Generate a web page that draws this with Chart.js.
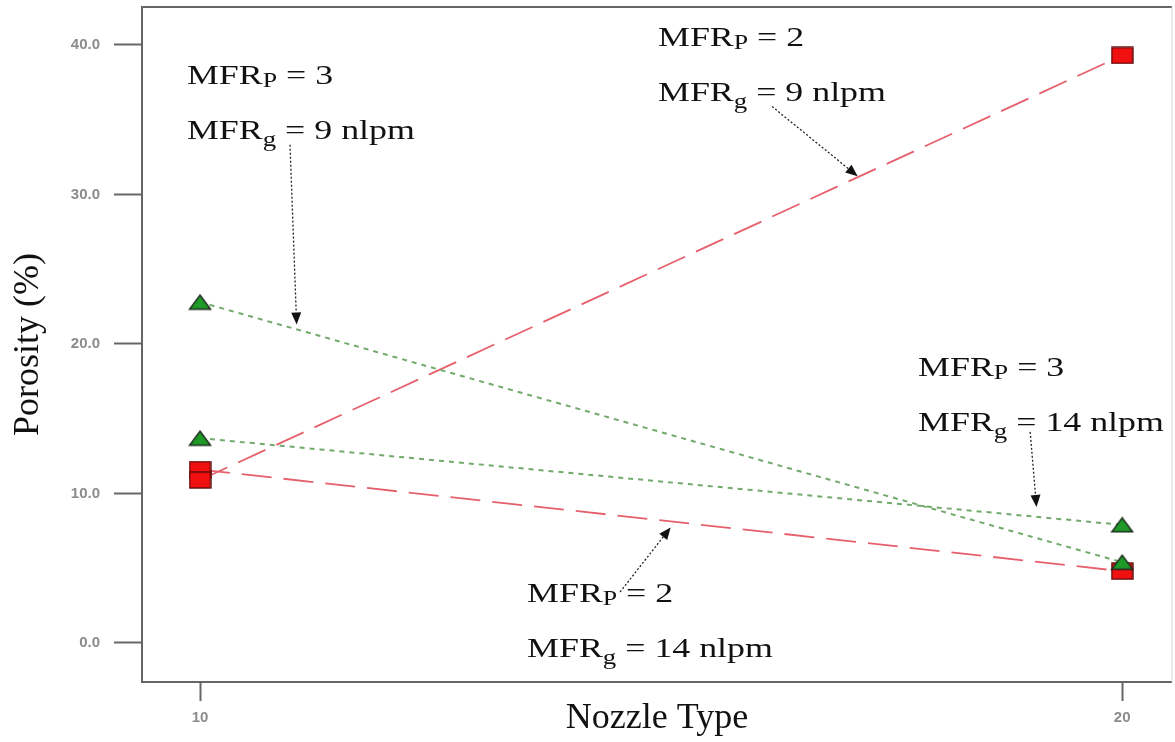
<!DOCTYPE html>
<html>
<head>
<meta charset="utf-8">
<script src="https://cdn.jsdelivr.net/npm/chart.js@4/dist/chart.umd.min.js"></script>
<style>
  html, body { margin: 0; padding: 0; background: #fff; }
  canvas { display: block; }
</style>
</head>
<body>
<canvas id="chart" width="1175" height="742"></canvas>
<script>
// Porosity (%) for each nozzle type, per powder / gas mass flow rate setting
const nozzleTypes = [10, 20];
const porosityP2G9 = [10.9, 39.3];   // MFRp = 2, MFRg = 9 nlpm
const porosityP2G14 = [11.6, 4.8];   // MFRp = 2, MFRg = 14 nlpm
const porosityP3G9 = [22.8, 5.4];    // MFRp = 3, MFRg = 9 nlpm
const porosityP3G14 = [13.7, 7.9];   // MFRp = 3, MFRg = 14 nlpm
const xTickValues = [10, 20];
const yTickValues = [0, 10, 20, 30, 40];

const SERIF = '"Liberation Serif", "Times New Roman", serif';
const SANS = '"Liberation Sans", Arial, sans-serif';

// marker images
function makeTriangle() {
  const c = document.createElement('canvas');
  c.width = 24; c.height = 17;
  const g = c.getContext('2d');
  g.beginPath();
  g.moveTo(12, 1.5); g.lineTo(22.5, 15.5); g.lineTo(1.5, 15.5); g.closePath();
  g.fillStyle = '#1f9a28'; g.fill();
  g.lineWidth = 1.4; g.strokeStyle = '#1d2b1d'; g.stroke();
  return c;
}
function makeSquare() {
  const c = document.createElement('canvas');
  c.width = 23; c.height = 18;
  const g = c.getContext('2d');
  g.fillStyle = '#f01010'; g.fillRect(1, 1, 21, 16);
  g.lineWidth = 1.4; g.strokeStyle = '#5c0b0b'; g.strokeRect(1, 1, 21, 16);
  return c;
}
const triangleMark = makeTriangle();
const squareMark = makeSquare();

const toPoints = vals => nozzleTypes.map((x, i) => ({ x, y: vals[i] }));

const greenLine = {
  borderColor: '#72aa6c', borderWidth: 2, borderDash: [5, 5],
  pointStyle: triangleMark, pointRadius: 10, fill: false, tension: 0
};
const redLine = {
  borderColor: '#e6606c', borderWidth: 1.8, borderDash: [30, 12],
  pointStyle: squareMark, pointRadius: 10, fill: false, tension: 0
};

const seriesByKey = {
  P3G9: porosityP3G9, P3G14: porosityP3G14, P2G9: porosityP2G9, P2G14: porosityP2G14
};

// labels: MFRp / MFRg settings with arrows pointing at the matching line
const notes = [
  { x: 9.859, y: 37.39, p: '3', g: '9',  arrow: { sx: 10.976, sy: 33.33, series: 'P3G9',  tx: 11.05, gap: 5 } },
  { x: 14.967, y: 39.93, p: '2', g: '9', arrow: { sx: 16.204, sy: 35.88, series: 'P2G9',  tx: 17.14, gap: 1 } },
  { x: 17.787, y: 17.86, p: '3', g: '14', arrow: { sx: 19.002, sy: 14.12, series: 'P3G14', tx: 19.08, gap: 10 } },
  { x: 13.547, y: 2.74, p: '2', g: '14', arrow: { sx: 14.555, sy: 3.41,  series: 'P2G14', tx: 15.15, gap: 7 } }
];
const NOTE_FONT = 28;
const NOTE_STRETCH = 1.28;
const NOTE_LINE_GAP = 55;

function valueAt(vals, x) {
  const t = (x - nozzleTypes[0]) / (nozzleTypes[1] - nozzleTypes[0]);
  return vals[0] + (vals[1] - vals[0]) * t;
}

function drawMFR(ctx, x, y, sub, subScale, subDrop, rest) {
  ctx.save();
  ctx.translate(x, y);
  ctx.scale(NOTE_STRETCH, 1);
  ctx.fillStyle = '#111';
  ctx.textBaseline = 'alphabetic';
  ctx.textAlign = 'left';
  const main = NOTE_FONT + 'px ' + SERIF;
  ctx.font = main;
  ctx.fillText('MFR', 0, 0);
  let w = ctx.measureText('MFR').width;
  ctx.font = (NOTE_FONT * subScale) + 'px ' + SERIF;
  ctx.fillText(sub, w, subDrop);
  w += ctx.measureText(sub).width;
  ctx.font = main;
  ctx.fillText(rest, w, 0);
  ctx.restore();
}

function drawArrow(ctx, x0, y0, x1, y1) {
  const dx = x1 - x0, dy = y1 - y0;
  const len = Math.hypot(dx, dy);
  const ux = dx / len, uy = dy / len;
  const head = 12, half = 5;
  const bx = x1 - ux * head, by = y1 - uy * head;
  ctx.save();
  ctx.strokeStyle = '#222';
  ctx.lineWidth = 1.3;
  ctx.setLineDash([2, 2]);
  ctx.beginPath();
  ctx.moveTo(x0, y0);
  ctx.lineTo(bx, by);
  ctx.stroke();
  ctx.setLineDash([]);
  ctx.fillStyle = '#111';
  ctx.beginPath();
  ctx.moveTo(x1, y1);
  ctx.lineTo(bx - uy * half, by + ux * half);
  ctx.lineTo(bx + uy * half, by - ux * half);
  ctx.closePath();
  ctx.fill();
  ctx.restore();
}

const framePlugin = {
  id: 'frame',
  beforeDatasetsDraw(chart) {
    const { ctx, chartArea: a } = chart;
    ctx.save();
    ctx.strokeStyle = '#666';
    ctx.lineWidth = 2;
    ctx.beginPath();
    ctx.moveTo(a.right, a.top); ctx.lineTo(a.left, a.top);
    ctx.lineTo(a.left, a.bottom); ctx.lineTo(a.right, a.bottom);
    ctx.stroke();
    ctx.strokeStyle = '#d4d4d4';
    ctx.lineWidth = 1;
    ctx.beginPath();
    ctx.moveTo(a.right, a.top); ctx.lineTo(a.right, a.bottom);
    ctx.stroke();
    ctx.restore();
  }
};

const notesPlugin = {
  id: 'notes',
  afterDatasetsDraw(chart) {
    const { ctx, scales: { x, y } } = chart;
    notes.forEach(n => {
      const px = x.getPixelForValue(n.x);
      const py = y.getPixelForValue(n.y);
      drawMFR(ctx, px, py, 'P', 0.72, 3, ' = ' + n.p);
      drawMFR(ctx, px, py + NOTE_LINE_GAP, 'g', 0.75, 7, ' = ' + n.g + ' nlpm');
      const a = n.arrow;
      const sx = x.getPixelForValue(a.sx), sy = y.getPixelForValue(a.sy);
      const lx = x.getPixelForValue(a.tx);
      const ly = y.getPixelForValue(valueAt(seriesByKey[a.series], a.tx));
      const d = Math.hypot(lx - sx, ly - sy);
      const tx = lx - (lx - sx) / d * a.gap, ty = ly - (ly - sy) / d * a.gap;
      drawArrow(ctx, sx, sy, tx, ty);
    });
  }
};

// keep the plot frame exactly where the layout padding puts it
function clearScalePadding(s) {
  s.paddingTop = 0; s.paddingBottom = 0; s.paddingLeft = 0; s.paddingRight = 0;
}

const tickFont = { family: SANS, size: 15, weight: 'bold' };
const titleFont = { family: SERIF, size: 36 };

new Chart(document.getElementById('chart'), {
  type: 'line',
  data: {
    datasets: [
      Object.assign({ label: 'MFRp = 3, MFRg = 9 nlpm', data: toPoints(porosityP3G9) }, greenLine),
      Object.assign({ label: 'MFRp = 3, MFRg = 14 nlpm', data: toPoints(porosityP3G14) }, greenLine),
      Object.assign({ label: 'MFRp = 2, MFRg = 9 nlpm', data: toPoints(porosityP2G9) }, redLine),
      Object.assign({ label: 'MFRp = 2, MFRg = 14 nlpm', data: toPoints(porosityP2G14) }, redLine)
    ]
  },
  options: {
    responsive: false,
    animation: false,
    devicePixelRatio: 1,
    layout: { autoPadding: false, padding: { top: 7, right: 3, left: 0, bottom: 0 } },
    plugins: { legend: { display: false }, tooltip: { enabled: false } },
    scales: {
      x: {
        type: 'linear',
        min: 9.371, max: 20.54,
        afterBuildTicks: s => { s.ticks = xTickValues.map(v => ({ value: v })); },
        afterFit: s => { s.height = 60; clearScalePadding(s); },
        ticks: { callback: v => String(v), font: tickFont, color: '#8c8c8c', padding: 8, maxRotation: 0 },
        grid: { drawOnChartArea: false, drawTicks: true, tickLength: 19, tickColor: '#666', tickWidth: 2 },
        border: { display: false },
        title: { display: true, text: 'Nozzle Type', font: titleFont, color: '#111', padding: { top: 0, bottom: 2 } }
      },
      y: {
        type: 'linear',
        min: -2.61, max: 42.54,
        afterBuildTicks: s => { s.ticks = yTickValues.map(v => ({ value: v })); },
        afterFit: s => { s.width = 142; clearScalePadding(s); },
        ticks: { callback: v => v.toFixed(1), font: tickFont, color: '#8c8c8c', padding: 14 },
        grid: { drawOnChartArea: false, drawTicks: true, tickLength: 28, tickColor: '#666', tickWidth: 2 },
        border: { display: false },
        title: { display: true, text: 'Porosity (%)', font: titleFont, color: '#111', padding: { top: 7, bottom: 0 } }
      }
    }
  },
  plugins: [framePlugin, notesPlugin]
});
</script>
</body>
</html>
